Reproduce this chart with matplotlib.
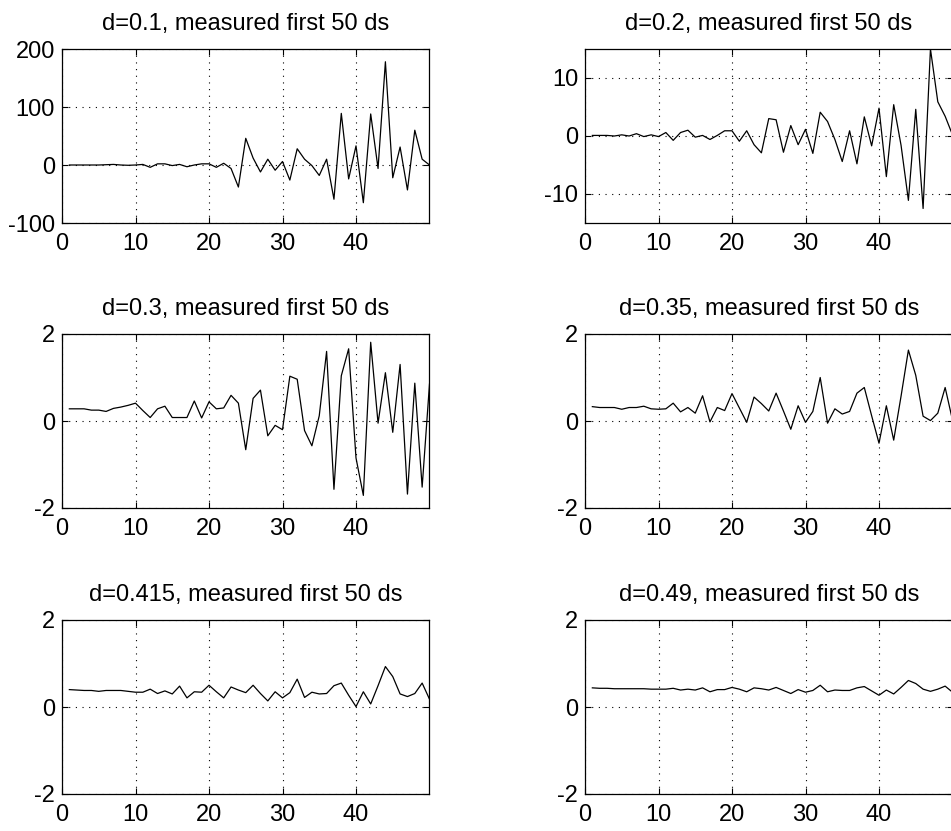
import numpy as np
import matplotlib
matplotlib.use('Agg')
import matplotlib.pyplot as plt

plt.rcParams['font.family'] = ['Liberation Sans', 'DejaVu Sans']
plt.rcParams['axes.unicode_minus'] = False

# sample index 1..50
n = np.arange(1, 51)

d_vals = ['0.1', '0.2', '0.3', '0.35', '0.415', '0.49']

d010 = [0, 0, 0, 0, 0, 0.5, 1, 0, -0.5, 0,
        1, -4, 2, 2, -1, 1, -3, 0, 2, 2,
        -4, 3, -6, -38, 46, 12, -12, 10, -9, 6,
        -26, 28, 10, -1, -18, 10, -59, 89, -24, 33,
        -65, 88, -6, 178, -22, 31, -43, 60, 10, 0]

d020 = [0.1, 0.1, 0.1, 0.0, 0.2, 0.0, 0.4, -0.1, 0.2, -0.1,
        0.6, -0.75, 0.6, 1.0, -0.2, 0.1, -0.6, 0.1, 0.9, 0.9,
        -0.9, 0.9, -1.5, -2.9, 3.0, 2.8, -2.8, 1.8, -1.5, 1.15,
        -3.0, 4.1, 2.5, -0.6, -4.4, 0.9, -4.8, 3.3, -1.7, 4.8,
        -7.0, 5.4, -1.6, -11.1, 4.6, -12.5, 15.0, 5.9, 3.4, 0.2]

d030 = [0.28, 0.28, 0.28, 0.25, 0.25, 0.22, 0.29, 0.32, 0.36, 0.41,
        0.24, 0.08, 0.28, 0.34, 0.08, 0.08, 0.08, 0.46, 0.07, 0.44,
        0.28, 0.30, 0.59, 0.41, -0.66, 0.52, 0.71, -0.34, -0.10, -0.20,
        1.03, 0.96, -0.22, -0.57, 0.12, 1.60, -1.57, 1.04, 1.66, -0.85,
        -1.71, 1.81, -0.05, 1.11, -0.26, 1.30, -1.68, 0.87, -1.52, 0.85]

d035 = [0.33, 0.31, 0.31, 0.31, 0.27, 0.31, 0.31, 0.34, 0.28, 0.27,
        0.28, 0.41, 0.21, 0.31, 0.18, 0.58, -0.02, 0.31, 0.24, 0.63,
        0.30, -0.03, 0.55, 0.40, 0.23, 0.64, 0.23, -0.19, 0.35, -0.03,
        0.22, 1.00, -0.05, 0.28, 0.16, 0.22, 0.64, 0.77, 0.12, -0.51,
        0.35, -0.44, 0.57, 1.63, 1.05, 0.11, 0.01, 0.18, 0.77, 0.02]

d0415 = [0.40, 0.39, 0.38, 0.38, 0.36, 0.38, 0.38, 0.38, 0.36, 0.34,
         0.34, 0.41, 0.31, 0.37, 0.30, 0.48, 0.21, 0.35, 0.34, 0.50,
         0.35, 0.21, 0.46, 0.39, 0.33, 0.50, 0.31, 0.14, 0.35, 0.21,
         0.33, 0.64, 0.22, 0.34, 0.30, 0.31, 0.49, 0.55, 0.27, 0.01,
         0.35, 0.07, 0.49, 0.93, 0.70, 0.30, 0.24, 0.31, 0.55, 0.18]

d049 = [0.44, 0.43, 0.43, 0.42, 0.42, 0.42, 0.42, 0.42, 0.41, 0.41,
        0.41, 0.43, 0.39, 0.41, 0.39, 0.44, 0.35, 0.40, 0.40, 0.45,
        0.41, 0.35, 0.44, 0.42, 0.39, 0.45, 0.38, 0.31, 0.40, 0.34,
        0.38, 0.50, 0.35, 0.39, 0.38, 0.38, 0.44, 0.47, 0.37, 0.27,
        0.39, 0.30, 0.45, 0.61, 0.54, 0.41, 0.36, 0.41, 0.48, 0.34]

series = [d010, d020, d030, d035, d0415, d049]
ylims = [(-100, 200), (-15, 15), (-2, 2), (-2, 2), (-2, 2), (-2, 2)]
yticks = [[-100, 0, 100, 200], [-10, 0, 10], [-2, 0, 2], [-2, 0, 2], [-2, 0, 2], [-2, 0, 2]]
xticks = [0, 10, 20, 30, 40]

W, H = 951, 831
fig = plt.figure(figsize=(W / 100, H / 100), dpi=100)

lefts = [62, 585]
bottoms = [223, 508, 794]   # pixel y of the bottom edge of each row
ax_w, ax_h = 367.5, 174

for i, vals in enumerate(series):
    row, col = i // 2, i % 2
    ax = fig.add_axes([lefts[col] / W, (H - bottoms[row]) / H, ax_w / W, ax_h / H])
    ax.plot(n, vals, color='black', linewidth=0.9)
    ax.set_xlim(0, 50)
    ax.set_ylim(*ylims[i])
    ax.set_xticks(xticks)
    ax.set_yticks(yticks[i])
    ax.grid(True, linestyle=(0, (1, 5)), color='black', linewidth=0.8)
    ax.tick_params(direction='in', top=True, right=True, length=4,
                   labelsize=17, width=0.8)
    ax.tick_params(axis='x', pad=7)
    ax.tick_params(axis='y', pad=5)
    for s in ax.spines.values():
        s.set_linewidth(0.9)
    ax.set_title('d=' + d_vals[i] + ', measured first 50 ds', fontsize=17, pad=14)

fig.savefig('out.png', dpi=100)
